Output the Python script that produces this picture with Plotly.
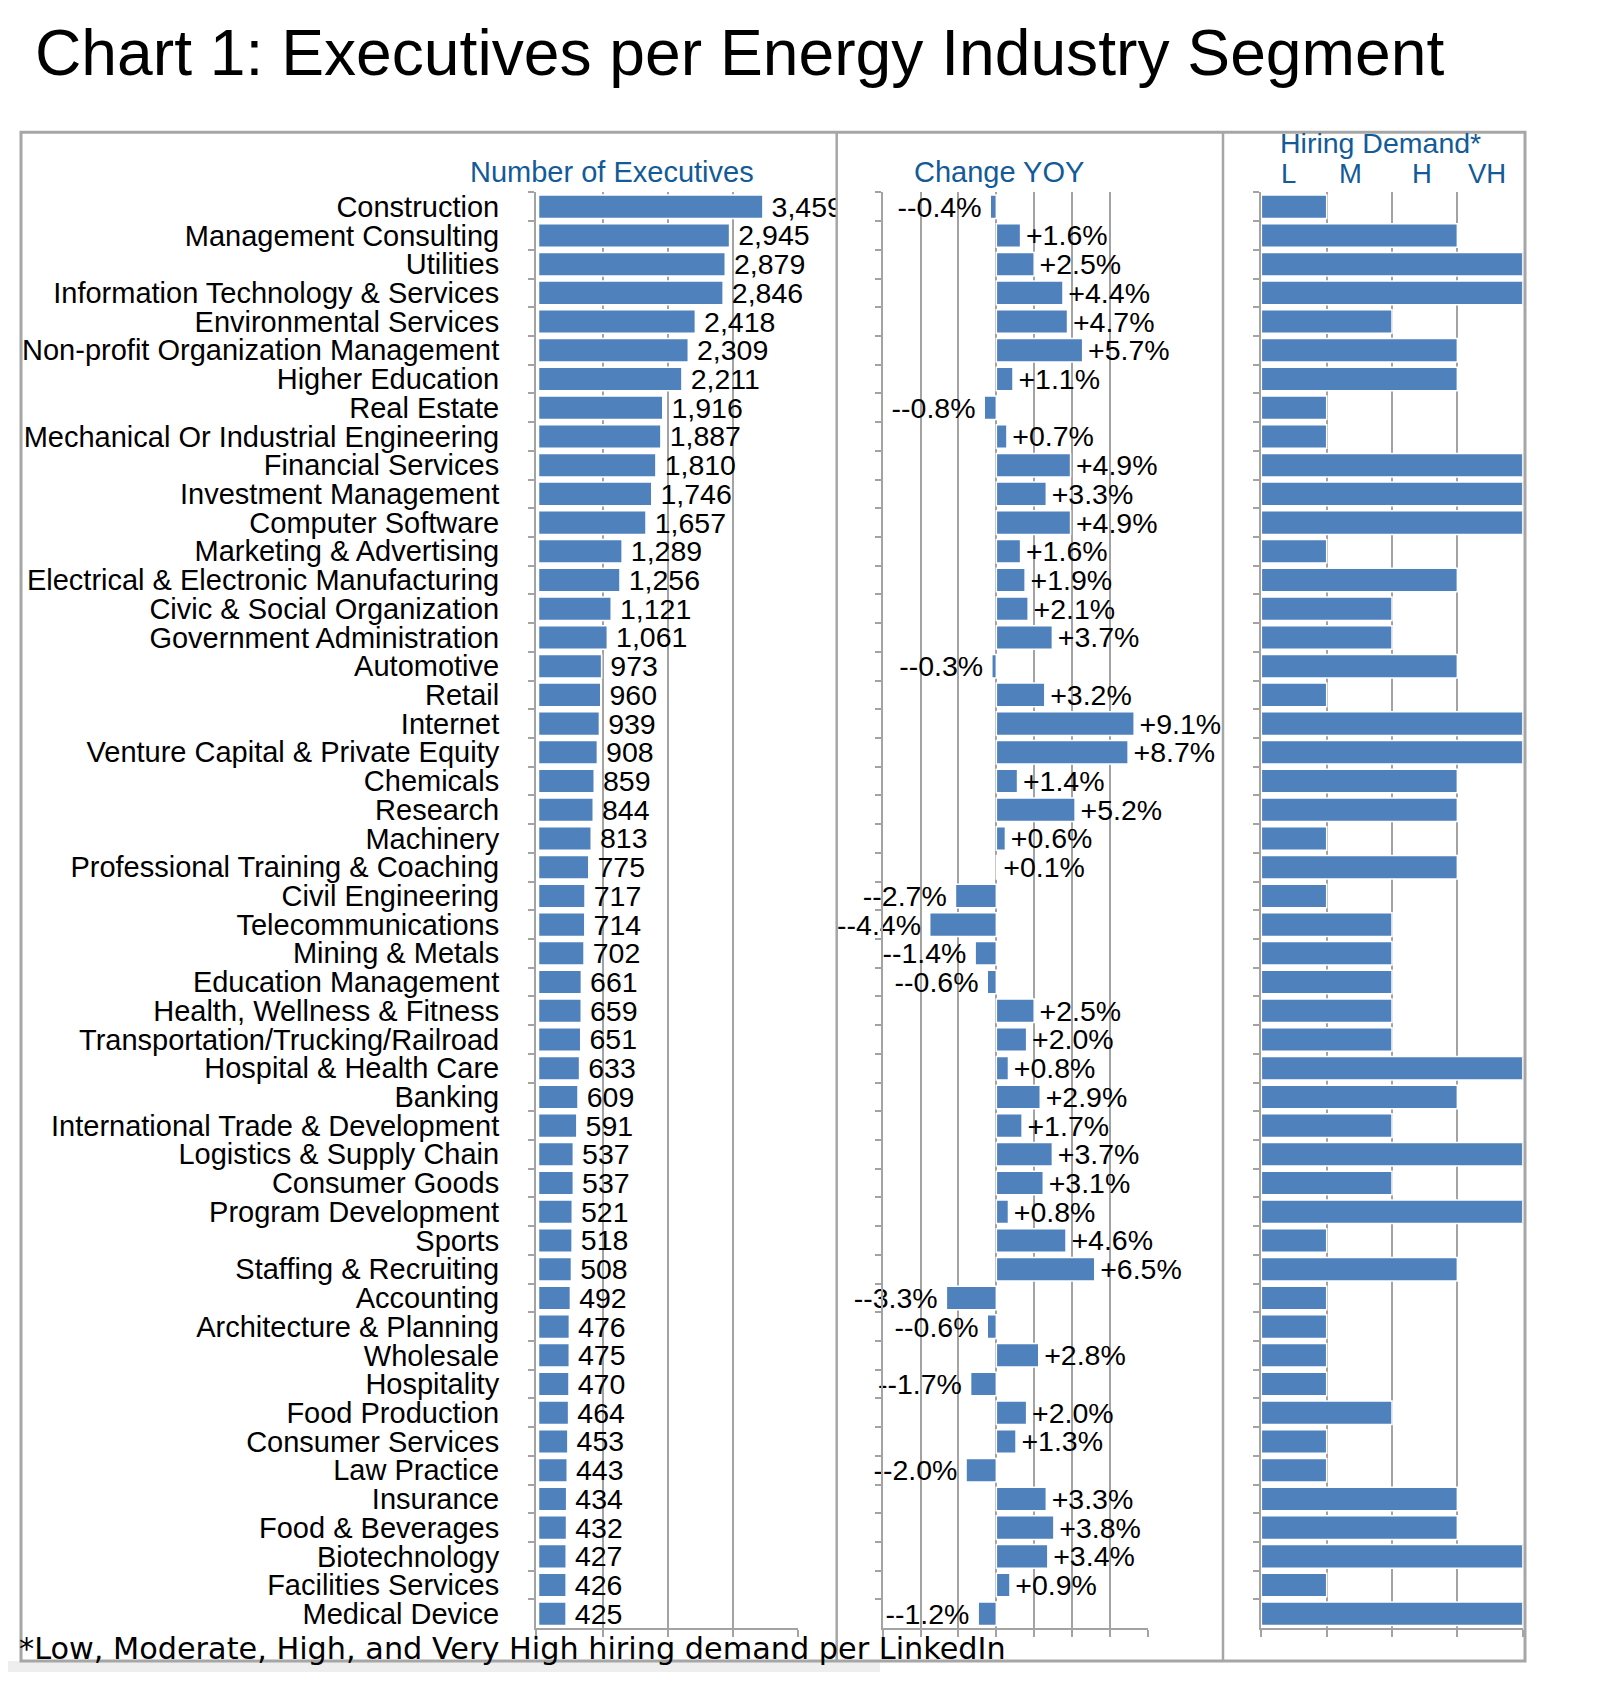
import plotly.graph_objects as go

# ---------------- data ----------------
categories = [
    "Construction", "Management Consulting", "Utilities", "Information Technology & Services",
    "Environmental Services", "Non-profit Organization Management", "Higher Education", "Real Estate",
    "Mechanical Or Industrial Engineering", "Financial Services", "Investment Management",
    "Computer Software", "Marketing & Advertising", "Electrical & Electronic Manufacturing",
    "Civic & Social Organization", "Government Administration", "Automotive", "Retail", "Internet",
    "Venture Capital & Private Equity", "Chemicals", "Research", "Machinery",
    "Professional Training & Coaching", "Civil Engineering", "Telecommunications", "Mining & Metals",
    "Education Management", "Health, Wellness & Fitness", "Transportation/Trucking/Railroad",
    "Hospital & Health Care", "Banking", "International Trade & Development",
    "Logistics & Supply Chain", "Consumer Goods", "Program Development", "Sports",
    "Staffing & Recruiting", "Accounting", "Architecture & Planning", "Wholesale", "Hospitality",
    "Food Production", "Consumer Services", "Law Practice", "Insurance", "Food & Beverages",
    "Biotechnology", "Facilities Services", "Medical Device",
]
executives = [
    3459, 2945, 2879, 2846, 2418, 2309, 2211, 1916, 1887, 1810, 1746, 1657, 1289, 1256, 1121, 1061,
    973, 960, 939, 908, 859, 844, 813, 775, 717, 714, 702, 661, 659, 651, 633, 609, 591, 537, 537,
    521, 518, 508, 492, 476, 475, 470, 464, 453, 443, 434, 432, 427, 426, 425,
]
change_yoy = [
    -0.4, 1.6, 2.5, 4.4, 4.7, 5.7, 1.1, -0.8, 0.7, 4.9, 3.3, 4.9, 1.6, 1.9, 2.1, 3.7, -0.3, 3.2,
    9.1, 8.7, 1.4, 5.2, 0.6, 0.1, -2.7, -4.4, -1.4, -0.6, 2.5, 2.0, 0.8, 2.9, 1.7, 3.7, 3.1, 0.8,
    4.6, 6.5, -3.3, -0.6, 2.8, -1.7, 2.0, 1.3, -2.0, 3.3, 3.8, 3.4, 0.9, -1.2,
]
# hiring demand level: 1 = Low, 2 = Moderate, 3 = High, 4 = Very High
hiring_demand = [
    1, 3, 4, 4, 2, 3, 3, 1, 1, 4, 4, 4, 1, 3, 2, 2, 3, 1, 4, 4, 3, 3, 1, 3, 1, 2, 2, 2, 2, 2,
    4, 3, 2, 4, 2, 4, 1, 3, 1, 1, 1, 1, 2, 1, 1, 3, 3, 4, 1, 4,
]
hiring_levels = ["L", "M", "H", "VH"]
hiring_level_pos = [0.42, 1.36, 2.46, 3.45]

exec_ticks = [-38.5, 1000, 2000, 3000, 4000]
yoy_ticks = [-7.5, -5, -2.5, 0, 2.5, 5, 7.5, 10]
hiring_ticks = [-0.01, 1, 2, 3, 4]

title_text = "Chart 1: Executives per Energy Industry Segment"
footnote_text = "*Low, Moderate, High, and Very High hiring demand per LinkedIn"

# ---------------- layout helpers ----------------
W, H = 1606, 1700
OFF = 8  # page margin of the html body


def fx(p):
    return (p - OFF) / W


def fy(p):
    return 1 - (p - OFF) / H


BAR = "#4F81BD"
GRID = "#a3a3a3"
BLUE = "#135b98"
FONT = "Liberation Sans, Arial, sans-serif"
THIN = "\u2009"
HAIR = "\u200a"

exec_text = [THIN + f"{v:,}" for v in executives]
yoy_text = [
    (HAIR + "+" + f"{v:.1f}%") if v >= 0 else ("-" + f"{v:.1f}%" + THIN)
    for v in change_yoy
]

fig = go.Figure()
bar_line = dict(color="white", width=1.5)
fig.add_trace(go.Bar(
    y=categories, x=executives, orientation="h", xaxis="x", yaxis="y",
    marker=dict(color=BAR, line=bar_line),
    text=exec_text, textposition="outside", cliponaxis=False,
    constraintext="none", textfont=dict(family=FONT, size=28.5, color="black"),
    hoverinfo="x+y",
))
fig.add_trace(go.Bar(
    y=categories, x=change_yoy, orientation="h", xaxis="x2", yaxis="y2",
    marker=dict(color=BAR, line=bar_line),
    text=yoy_text, textposition="outside", cliponaxis=False,
    constraintext="none", textfont=dict(family=FONT, size=28.5, color="black"),
    hoverinfo="x+y",
))
fig.add_trace(go.Bar(
    y=categories, x=hiring_demand, orientation="h", xaxis="x3", yaxis="y3",
    marker=dict(color=BAR, line=bar_line), hoverinfo="x+y",
))

ydom = [fy(1630), fy(191.7)]
common_x = dict(
    showline=True, linecolor=GRID, linewidth=2, showgrid=True, gridcolor=GRID, gridwidth=2,
    zeroline=False, ticks="outside", ticklen=7, tickwidth=2, tickcolor=GRID,
    showticklabels=False, fixedrange=True,
)
common_y = dict(
    type="category", autorange="reversed", showline=True, linecolor=GRID, linewidth=2,
    showgrid=False, zeroline=False, ticks="outside", ticklen=6, tickwidth=2, tickcolor=GRID,
    tickson="boundaries", tickmode="linear", tick0=0, dtick=1, domain=ydom, fixedrange=True,
)

fig.update_layout(
    width=W, height=H, margin=dict(l=0, r=0, t=0, b=0),
    paper_bgcolor="white", plot_bgcolor="rgba(0,0,0,0)",
    showlegend=False, bargap=0.18,
    font=dict(family=FONT, size=28.5, color="black"),
    xaxis=dict(common_x, domain=[fx(536), fx(798)], range=[-38.5, 4000], tickvals=exec_ticks,
               anchor="y"),
    xaxis2=dict(common_x, domain=[fx(882.75), fx(1147.8)], range=[-7.5, 10], tickvals=yoy_ticks,
                anchor="y2"),
    xaxis3=dict(common_x, domain=[fx(1260.7), fx(1522.7)], range=[-0.01, 4],
                tickvals=hiring_ticks, anchor="y3"),
    yaxis=dict(common_y, anchor="x", showticklabels=True, ticklabelstandoff=29,
               tickfont=dict(family=FONT, size=29, color="black")),
    yaxis2=dict(common_y, anchor="x2", showticklabels=False),
    yaxis3=dict(common_y, anchor="x3", showticklabels=False),
)

shapes = [
    # faint shadow under the footnote
    dict(type="rect", xref="paper", yref="paper", x0=0, x1=fx(880), y0=fy(1674), y1=fy(1663),
         fillcolor="#eeeeee", line=dict(width=0), layer="below"),
    # the first panel's value text is clipped at the panel border
    dict(type="rect", xref="paper", yref="paper", x0=fx(837), x1=fx(872), y0=fy(221),
         y1=fy(193), fillcolor="white", line=dict(width=0), layer="above"),
    # outer frame
    dict(type="rect", xref="paper", yref="paper", x0=fx(21), x1=fx(1525), y0=fy(1663),
         y1=fy(131.5), line=dict(color="#a6a6a6", width=3), fillcolor="rgba(0,0,0,0)",
         layer="above"),
    # panel separators
    dict(type="line", xref="paper", yref="paper", x0=fx(836.7), x1=fx(836.7), y0=fy(1663),
         y1=fy(131.5), line=dict(color="#a6a6a6", width=2.5), layer="above"),
    dict(type="line", xref="paper", yref="paper", x0=fx(1223), x1=fx(1223), y0=fy(1663),
         y1=fy(131.5), line=dict(color="#a6a6a6", width=2.5), layer="above"),
]
fig.update_layout(shapes=shapes)

ann = [
    dict(text=title_text, x=fx(33), y=fy(52), xanchor="left", yanchor="middle",
         font=dict(family=FONT, size=64.2, color="black")),
    dict(text="Number of Executives", x=fx(611.7), y=fy(171), xanchor="center",
         yanchor="middle", font=dict(family=FONT, size=29, color=BLUE)),
    dict(text="Change YOY", x=fx(999), y=fy(171), xanchor="center", yanchor="middle",
         font=dict(family=FONT, size=29, color=BLUE)),
    dict(text="Hiring Demand*", x=fx(1380), y=fy(142.5), xanchor="center", yanchor="middle",
         font=dict(family=FONT, size=28.5, color=BLUE)),
    dict(text=footnote_text, x=fx(17), y=fy(1650), xanchor="left", yanchor="middle",
         font=dict(family="DejaVu Sans, sans-serif", size=30.3, color="black")),
]
for lab, pos in zip(hiring_levels, hiring_level_pos):
    ann.append(dict(text=lab, x=pos, xref="x3", y=fy(172.5), yref="paper", xanchor="center",
                    yanchor="middle", font=dict(family=FONT, size=27.5, color=BLUE)))
for a in ann:
    a.setdefault("xref", "paper")
    a.setdefault("yref", "paper")
    a["showarrow"] = False
fig.update_layout(annotations=ann)

fig.write_html("out.html")
